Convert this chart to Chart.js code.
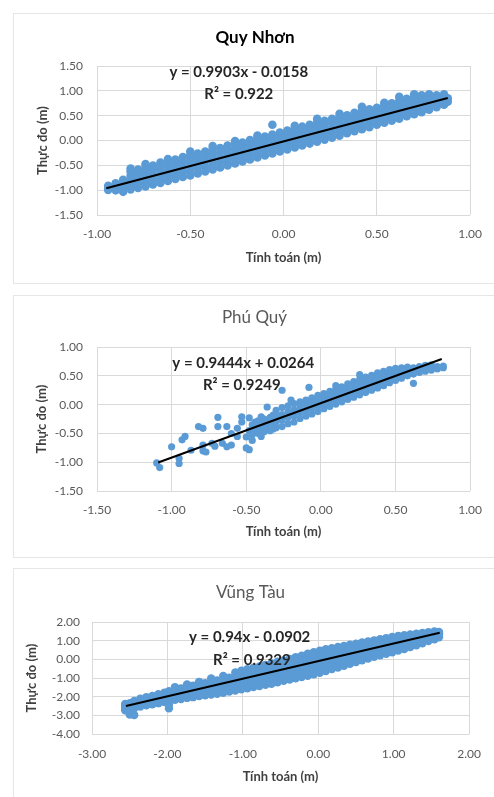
<!DOCTYPE html>
<html lang="vi">
<head>
<meta charset="utf-8">
<title>Tương quan mực nước tính toán - thực đo</title>
<script src="https://cdn.jsdelivr.net/npm/chart.js@4.4.1/dist/chart.umd.min.js"></script>
<style>
  html, body { margin: 0; padding: 0; background: #fff; }
  body { width: 494px; height: 797px; position: relative; overflow: hidden; }
  .frame { position: absolute; border: 1px solid #e6e6e6; box-sizing: border-box; }
  canvas { position: absolute; left: 0; }
</style>
</head>
<body>
<div class="frame" style="left:13px;top:13px;width:500px;height:271px"></div>
<div class="frame" style="left:13px;top:295px;width:500px;height:263px"></div>
<div class="frame" style="left:13px;top:568px;width:500px;height:240px"></div>
<canvas id="chart-qn" width="494" height="258" style="top:15px"></canvas>
<canvas id="chart-pq" width="494" height="258" style="top:296px"></canvas>
<canvas id="chart-vt" width="494" height="232" style="top:565px"></canvas>
<script>
// Quy Nhơn: x columns of "tính toán", each with its "thực đo" values
const qnCols = [-0.94, -0.90, -0.86, -0.82, -0.78, -0.74, -0.70, -0.66, -0.62, -0.58, -0.54, -0.50,
  -0.46, -0.42, -0.38, -0.34, -0.30, -0.26, -0.22, -0.18, -0.14, -0.10, -0.06, -0.02, 0.02, 0.06,
  0.10, 0.14, 0.18, 0.22, 0.26, 0.30, 0.34, 0.38, 0.42, 0.46, 0.50, 0.54, 0.58, 0.62, 0.66, 0.70,
  0.74, 0.78, 0.82, 0.86, 0.88];
const qnVals = [
  [-0.99, -0.95, -0.91], [-1.00, -0.93, -0.86], [-1.03, -0.95, -0.87, -0.79],
  [-0.98, -0.90, -0.81, -0.71, -0.62, -0.56], [-0.95, -0.86, -0.76, -0.66, -0.58],
  [-0.92, -0.83, -0.73, -0.63, -0.53, -0.47], [-0.88, -0.78, -0.68, -0.58, -0.50],
  [-0.85, -0.75, -0.65, -0.55, -0.44], [-0.81, -0.71, -0.61, -0.51, -0.42, -0.37],
  [-0.77, -0.67, -0.57, -0.47, -0.38], [-0.73, -0.63, -0.53, -0.43, -0.33],
  [-0.70, -0.59, -0.49, -0.39, -0.29, -0.22], [-0.66, -0.55, -0.45, -0.35, -0.26],
  [-0.62, -0.52, -0.41, -0.31, -0.22], [-0.58, -0.48, -0.37, -0.27, -0.17, -0.11],
  [-0.54, -0.44, -0.34, -0.24, -0.15], [-0.50, -0.40, -0.30, -0.20, -0.10],
  [-0.46, -0.36, -0.26, -0.16, -0.06, -0.01], [-0.42, -0.32, -0.22, -0.12, -0.04],
  [-0.38, -0.28, -0.18, -0.08, 0.01], [-0.34, -0.24, -0.14, -0.04, 0.05, 0.10],
  [-0.30, -0.20, -0.10, 0.00, 0.08], [-0.26, -0.16, -0.06, 0.04, 0.12, 0.32],
  [-0.22, -0.12, -0.02, 0.08, 0.16], [-0.18, -0.08, 0.02, 0.12, 0.20],
  [-0.14, -0.04, 0.06, 0.16, 0.25, 0.30], [-0.10, 0.00, 0.10, 0.20, 0.28],
  [-0.06, 0.04, 0.14, 0.24, 0.32], [-0.02, 0.08, 0.18, 0.28, 0.37, 0.44],
  [0.02, 0.12, 0.22, 0.32, 0.40], [0.06, 0.16, 0.26, 0.36, 0.44],
  [0.10, 0.20, 0.30, 0.40, 0.48, 0.54], [0.15, 0.24, 0.34, 0.44, 0.51],
  [0.19, 0.28, 0.38, 0.48, 0.56], [0.23, 0.32, 0.42, 0.52, 0.60, 0.68],
  [0.27, 0.36, 0.46, 0.55, 0.63], [0.32, 0.41, 0.50, 0.59, 0.66],
  [0.36, 0.45, 0.54, 0.63, 0.71, 0.76], [0.40, 0.49, 0.58, 0.67, 0.75],
  [0.44, 0.53, 0.62, 0.71, 0.80, 0.88], [0.49, 0.57, 0.66, 0.75, 0.84],
  [0.53, 0.61, 0.70, 0.79, 0.88, 0.93], [0.57, 0.65, 0.74, 0.83, 0.91],
  [0.62, 0.70, 0.78, 0.87, 0.93], [0.67, 0.75, 0.83, 0.91], [0.72, 0.80, 0.88, 0.93],
  [0.78, 0.85],
];
const qnFit = [0.9903, -0.0158];
const qnFitRange = [-0.95, 0.88];
const qnXTicks = [-1, 1, 0.5];
const qnYTicks = [-1.5, 1.5, 0.5];

// Phú Quý
const pqCols = [-1.10, -1.08, -1.00, -0.95, -0.93, -0.91, -0.87, -0.82, -0.79, -0.77, -0.73, -0.71,
  -0.69, -0.66, -0.63, -0.60, -0.56, -0.53, -0.50, -0.48, -0.46, -0.44, -0.42, -0.40, -0.38, -0.36,
  -0.34, -0.32, -0.30, -0.26, -0.22, -0.20, -0.18, -0.14, -0.10, -0.08, -0.06, -0.02, 0.02, 0.06,
  0.10, 0.14, 0.18, 0.22, 0.26, 0.30, 0.34, 0.38, 0.42, 0.46, 0.50, 0.54, 0.58, 0.62, 0.66, 0.70,
  0.74, 0.78, 0.82];
const pqVals = [
  [-1.01], [-1.09], [-0.73], [-0.93, -1.02], [-0.61], [-0.55], [-0.79], [-0.38],
  [-0.41, -0.70, -0.80], [-0.82], [-0.67], [-0.72], [-0.22, -0.38], [-0.67], [-0.38, -0.73],
  [-0.50, -0.70], [-0.41, -0.55], [-0.21, -0.30], [-0.56, -0.75], [-0.23, -0.45, -0.78],
  [-0.35, -0.52, -0.62], [-0.30, -0.45], [-0.28, -0.38, -0.50], [-0.21, -0.42, -0.55],
  [-0.25, -0.33, -0.47], [-0.04, -0.30, -0.40], [-0.22, -0.36, -0.45], [-0.18, -0.30, -0.42],
  [-0.40, -0.30, -0.20, -0.10], [-0.38, -0.27, -0.17, -0.05, 0.25], [-0.33, -0.22, -0.12, -0.02],
  [0.08], [-0.30, -0.19, -0.09, 0.02], [-0.24, -0.14, -0.04, 0.05], [-0.20, -0.10, 0.00, 0.08],
  [0.30], [-0.16, -0.06, 0.03, 0.12], [-0.12, -0.02, 0.07, 0.16], [-0.07, 0.02, 0.11, 0.19],
  [-0.03, 0.06, 0.15, 0.23], [0.01, 0.10, 0.19, 0.27, 0.33], [0.05, 0.14, 0.23, 0.31],
  [0.09, 0.18, 0.27, 0.36], [0.13, 0.22, 0.31, 0.40], [0.17, 0.26, 0.35, 0.44, 0.52],
  [0.21, 0.30, 0.39, 0.48], [0.25, 0.34, 0.43, 0.51], [0.29, 0.38, 0.47, 0.55],
  [0.33, 0.42, 0.51, 0.58], [0.38, 0.46, 0.54, 0.61], [0.42, 0.50, 0.57, 0.63],
  [0.46, 0.53, 0.60, 0.64], [0.50, 0.56, 0.62, 0.65], [0.37, 0.53, 0.59, 0.64],
  [0.56, 0.61, 0.66], [0.58, 0.63, 0.68], [0.60, 0.65, 0.69], [0.62, 0.66], [0.64, 0.67],
];
const pqFit = [0.9444, 0.0264];
const pqFitRange = [-1.09, 0.81];
const pqXTicks = [-1.5, 1, 0.5];
const pqYTicks = [-1.5, 1, 0.5];

// Vũng Tàu
const vtCols = [-2.56, -2.50, -2.44, -2.36, -2.28, -2.20, -2.12, -2.04, -1.98, -1.90, -1.82, -1.74,
  -1.66, -1.58, -1.50, -1.42, -1.34, -1.26, -1.18, -1.10, -1.02, -0.94, -0.86, -0.78, -0.70, -0.62,
  -0.54, -0.46, -0.38, -0.30, -0.22, -0.14, -0.06, 0.02, 0.10, 0.18, 0.26, 0.34, 0.42, 0.50, 0.58,
  0.66, 0.74, 0.82, 0.90, 0.98, 1.06, 1.14, 1.22, 1.30, 1.38, 1.46, 1.54, 1.60];
const vtVals = [
  [-2.72, -2.60, -2.48, -2.38], [-2.95, -2.78, -2.62, -2.48, -2.34],
  [-2.98, -2.62, -2.48, -2.34, -2.22], [-2.52, -2.38, -2.24, -2.10], [-2.46, -2.32, -2.17, -2.02],
  [-2.40, -2.25, -2.10, -1.95], [-2.34, -2.18, -2.02, -1.86], [-2.28, -2.12, -1.95, -1.78],
  [-2.62, -2.42, -2.22, -2.05, -1.88, -1.70], [-2.16, -1.98, -1.80, -1.62, -1.48],
  [-2.12, -1.93, -1.74, -1.55], [-2.06, -1.86, -1.66, -1.48, -1.34], [-2.02, -1.80, -1.60, -1.40],
  [-1.96, -1.75, -1.54, -1.34, -1.20], [-1.92, -1.70, -1.48, -1.27],
  [-1.88, -1.65, -1.42, -1.20, -1.02], [-1.84, -1.60, -1.36, -1.12],
  [-1.78, -1.54, -1.30, -1.06, -0.88], [-1.72, -1.48, -1.24, -0.98],
  [-1.66, -1.40, -1.15, -0.90, -0.70], [-1.60, -1.34, -1.08, -0.82, -0.60],
  [-1.54, -1.28, -1.02, -0.76, -0.52], [-1.48, -1.22, -0.96, -0.70, -0.45],
  [-1.42, -1.16, -0.89, -0.62, -0.38], [-1.36, -1.10, -0.82, -0.55, -0.30],
  [-1.30, -1.02, -0.75, -0.47, -0.21], [-1.22, -0.95, -0.68, -0.40, -0.12],
  [-1.15, -0.88, -0.60, -0.32, -0.05], [-1.08, -0.80, -0.52, -0.24, 0.03],
  [-1.01, -0.72, -0.44, -0.16, 0.12], [-0.94, -0.65, -0.36, -0.08, 0.20],
  [-0.88, -0.58, -0.28, 0.01, 0.30], [-0.80, -0.50, -0.20, 0.10, 0.38],
  [-0.72, -0.42, -0.12, 0.18, 0.46], [-0.62, -0.33, -0.04, 0.25, 0.54],
  [-0.52, -0.24, 0.04, 0.32, 0.60], [-0.44, -0.16, 0.12, 0.40, 0.66],
  [-0.34, -0.07, 0.20, 0.47, 0.72], [-0.24, 0.02, 0.28, 0.54, 0.78],
  [-0.14, 0.11, 0.36, 0.61, 0.84], [-0.05, 0.19, 0.43, 0.67, 0.90],
  [0.04, 0.27, 0.50, 0.73, 0.96], [0.14, 0.36, 0.58, 0.80, 1.02],
  [0.22, 0.44, 0.65, 0.86, 1.08], [0.30, 0.51, 0.72, 0.93, 1.14],
  [0.38, 0.59, 0.80, 1.00, 1.20], [0.47, 0.67, 0.87, 1.06, 1.25],
  [0.56, 0.75, 0.94, 1.12, 1.29], [0.66, 0.84, 1.01, 1.18, 1.33],
  [0.76, 0.92, 1.08, 1.24, 1.37], [0.86, 1.01, 1.16, 1.30, 1.41],
  [0.98, 1.11, 1.24, 1.36, 1.46], [1.08, 1.20, 1.32, 1.42, 1.50], [1.18, 1.30, 1.40, 1.47],
];
const vtFit = [0.94, -0.0902];
const vtFitRange = [-2.55, 1.61];
const vtXTicks = [-3, 2, 1];
const vtYTicks = [-4, 2, 1];

const POINT_COLOR = "#5b9bd5";
const GRID_COLOR = "#d9d9d9";
const FONT = "Lato, 'Open Sans', sans-serif";

// draws the regression equation and R² on top of the points
const trendLabel = {
  id: "trendLabel",
  afterDatasetsDraw(chart, args, opts) {
    const { ctx, scales: { x, y } } = chart;
    ctx.save();
    ctx.font = `bold 15px ${FONT}`;
    ctx.fillStyle = "#262626";
    ctx.textAlign = "center";
    ctx.textBaseline = "middle";
    (opts.lines || []).forEach((l) => {
      ctx.fillText(l.text, x.getPixelForValue(l.at[0]), y.getPixelForValue(l.at[1]));
    });
    ctx.restore();
  },
};

function toPoints(cols, vals) {
  return cols.flatMap((x, i) => vals[i].map((y) => ({ x, y })));
}

function fitLine(fit, range) {
  return range.map((x) => ({ x, y: fit[0] * x + fit[1] }));
}

function fmtEquation(fit) {
  const sign = fit[1] < 0 ? "-" : "+";
  return `y = ${fit[0]}x ${sign} ${Math.abs(fit[1])}`;
}

function makeChart(id, c) {
  return new Chart(document.getElementById(id), {
    type: "scatter",
    data: {
      datasets: [
        {
          data: fitLine(c.fit, c.fitRange),
          showLine: true,
          borderColor: "#000000",
          borderWidth: 2,
          pointRadius: 0,
        },
        {
          data: toPoints(c.cols, c.vals),
          backgroundColor: POINT_COLOR,
          borderWidth: 0,
          pointRadius: c.radius,
          pointHoverRadius: c.radius,
        },
      ],
    },
    options: {
      responsive: false,
      animation: false,
      layout: { padding: c.pad },
      plugins: {
        legend: { display: false },
        tooltip: { enabled: false },
        title: {
          display: true,
          text: c.title,
          color: c.titleBold ? "#000000" : "#595959",
          font: { family: FONT, size: 17, weight: c.titleBold ? "bold" : "normal", lineHeight: 1.2 },
          padding: c.titlePad,
        },
        trendLabel: {
          lines: [
            { text: fmtEquation(c.fit), at: c.eqAt },
            { text: `R² = ${c.r2}`, at: c.r2At },
          ],
        },
      },
      scales: {
        x: {
          type: "linear",
          min: c.xTicks[0],
          max: c.xTicks[1],
          ticks: {
            stepSize: c.xTicks[2],
            padding: c.xTickPad,
            color: "#595959",
            font: { family: FONT, size: 12 },
            callback: (v) => v.toFixed(2),
          },
          grid: { color: GRID_COLOR, drawTicks: false },
          border: { display: false },
          title: {
            display: true,
            text: "Tính toán (m)",
            color: "#404040",
            font: { family: FONT, size: 13, weight: "bold" },
            padding: 0,
          },
          afterFit: (s) => { s.height = c.xHeight; },
        },
        y: {
          type: "linear",
          min: c.yTicks[0],
          max: c.yTicks[1],
          ticks: {
            stepSize: c.yTicks[2],
            padding: c.yTickPad,
            color: "#595959",
            font: { family: FONT, size: 12 },
            callback: (v) => v.toFixed(2),
          },
          grid: { color: GRID_COLOR, drawTicks: false },
          border: { display: false },
          title: {
            display: true,
            text: "Thực đo (m)",
            color: "#404040",
            font: { family: FONT, size: 13, weight: "bold" },
            padding: 0,
          },
          afterFit: (s) => { s.width = c.yWidth; },
        },
      },
    },
    plugins: [trendLabel],
  });
}

makeChart("chart-qn", {
  title: "Quy Nhơn", titleBold: true,
  cols: qnCols, vals: qnVals, fit: qnFit, fitRange: qnFitRange, r2: "0.922", radius: 4.3,
  xTicks: qnXTicks, yTicks: qnYTicks,
  pad: { left: 35, right: 19, top: 0, bottom: 7 },
  titlePad: { top: 12.8, bottom: 17.8 },
  yWidth: 62, yTickPad: 14, xHeight: 50.8, xTickPad: 12,
  eqAt: [-0.24, 1.38], r2At: [-0.24, 0.93],
});

makeChart("chart-pq", {
  title: "Phú Quý", titleBold: false,
  cols: pqCols, vals: pqVals, fit: pqFit, fitRange: pqFitRange, r2: "0.9249", radius: 3.6,
  xTicks: pqXTicks, yTicks: pqYTicks,
  pad: { left: 34, right: 19, top: 0, bottom: 14 },
  titlePad: { top: 11.8, bottom: 18.8 },
  yWidth: 63, yTickPad: 14, xHeight: 48.8, xTickPad: 12,
  eqAt: [-0.52, 0.72], r2At: [-0.53, 0.34],
});

makeChart("chart-vt", {
  title: "Vũng Tàu", titleBold: false,
  cols: vtCols, vals: vtVals, fit: vtFit, fitRange: vtFitRange, r2: "0.9329", radius: 4.2,
  xTicks: vtXTicks, yTicks: vtYTicks,
  pad: { left: 24, right: 17, top: 0, bottom: 12 },
  titlePad: { top: 17.8, bottom: 18.8 },
  yWidth: 68, yTickPad: 12, xHeight: 50.8, xTickPad: 13,
  eqAt: [-0.91, 1.2], r2At: [-0.88, -0.03],
});
</script>
</body>
</html>
